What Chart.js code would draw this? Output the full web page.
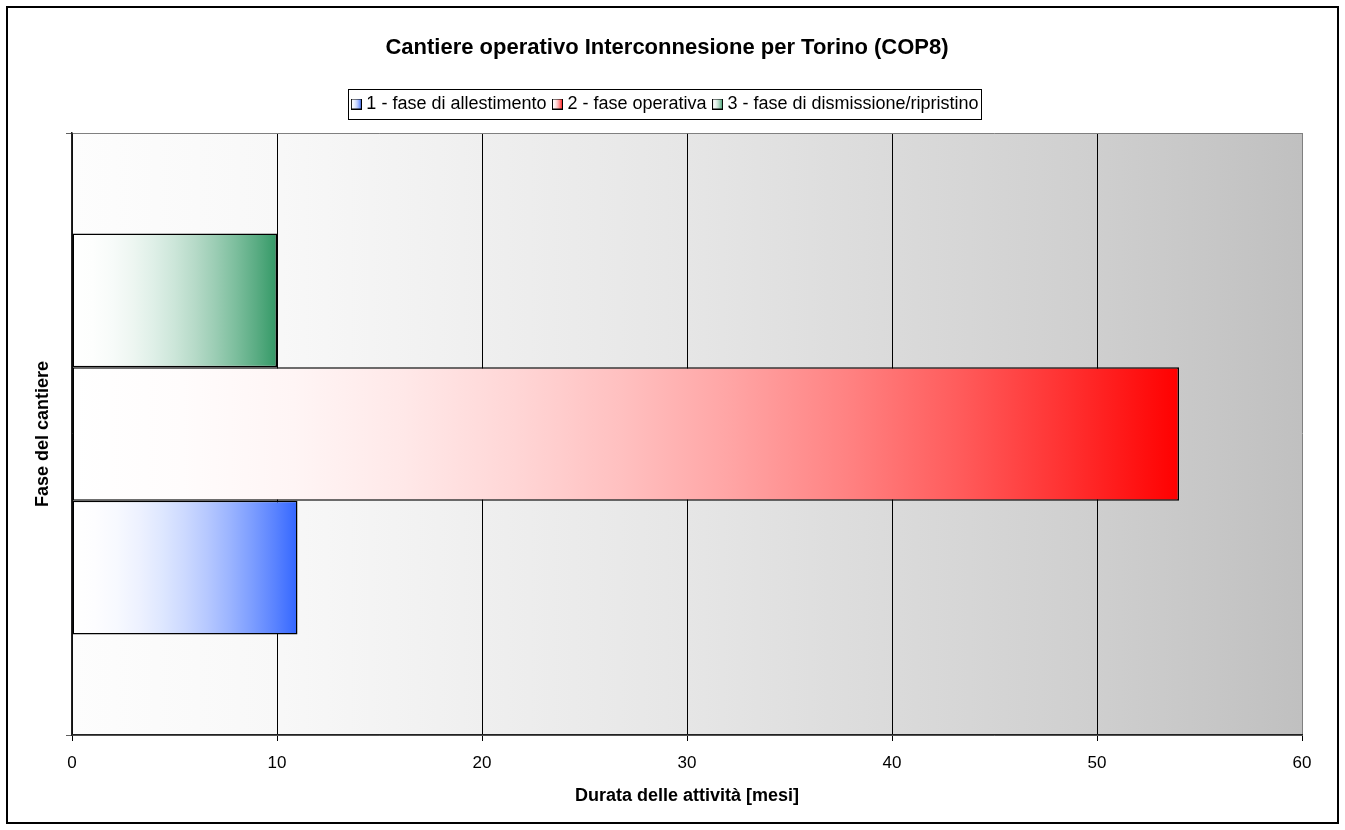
<!DOCTYPE html>
<html>
<head>
<meta charset="utf-8">
<title>Cantiere operativo Interconnesione per Torino (COP8)</title>
<script src="https://cdn.jsdelivr.net/npm/chart.js@4.4.1/dist/chart.umd.min.js"></script>
<style>
  html, body { margin: 0; padding: 0; background: #ffffff; }
  #wrap { width: 1345px; height: 830px; position: relative; }
</style>
</head>
<body>
<div id="wrap"><canvas id="chart"></canvas></div>
<script>
// Chart content
const chartTitle = 'Cantiere operativo Interconnesione per Torino (COP8)';
const categories = ['COP8'];
const phaseNames = ['1 - fase di allestimento', '2 - fase operativa', '3 - fase di dismissione/ripristino'];
const durations = [11, 54, 10];           // months per phase
const phaseColors = ['#3366ff', '#ff0000', '#339966'];
const xTickValues = [0, 10, 20, 30, 40, 50, 60];
const xAxisTitle = 'Durata delle attività [mesi]';
const yAxisTitle = 'Fase del cantiere';

const FONT = '"Liberation Sans", Arial, Helvetica, sans-serif';
Chart.defaults.font.family = FONT;
Chart.defaults.color = '#000000';

// Blend white towards a colour; s = 0 gives white, s = 1 the full colour.
function mix(hex, s) {
  const r = parseInt(hex.slice(1, 3), 16);
  const g = parseInt(hex.slice(3, 5), 16);
  const b = parseInt(hex.slice(5, 7), 16);
  const c = v => Math.round(255 + (v - 255) * s);
  return `rgb(${c(r)},${c(g)},${c(b)})`;
}

// Horizontal fade from white (left) to the full colour (right).
function fade(ctx, x0, x1, hex) {
  const g = ctx.createLinearGradient(x0, 0, x1, 0);
  for (let i = 0; i <= 10; i++) {
    const t = i / 10;
    g.addColorStop(t, mix(hex, t * t));
  }
  return g;
}

// Small gradient swatch used as the legend marker.
const SW = 11;
function swatch(hex) {
  const c = document.createElement('canvas');
  c.width = SW; c.height = SW;
  const x = c.getContext('2d');
  x.fillStyle = fade(x, 0, SW, hex);
  x.fillRect(0, 0, SW, SW);
  x.strokeStyle = '#000000';
  x.lineWidth = 1;
  x.strokeRect(0.5, 0.5, SW - 1, SW - 1);
  return c;
}

// Bars are stacked top-down in dataset order, so the phases go in reversed
// (phase 3 on top, phase 1 at the bottom); the legend flips them back.
const order = phaseNames.map((_, i) => i).reverse();
const datasets = order.map(i => ({
  label: phaseNames[i],
  data: [durations[i]],
  phaseColor: phaseColors[i],
  backgroundColor: (ctx) => {
    const chart = ctx.chart;
    const xs = chart.scales && chart.scales.x;
    if (!chart.chartArea || !xs || ctx.raw === undefined) return phaseColors[i];
    return fade(chart.ctx, xs.getPixelForValue(0), xs.getPixelForValue(ctx.raw), phaseColors[i]);
  },
  borderColor: '#000000',
  borderWidth: 1.5,
  borderSkipped: false,
  barPercentage: 1.0,
  categoryPercentage: 0.666
}));

// Chart frame, white page and the grey fade of the plot area.
const plotBackground = {
  id: 'plotBackground',
  beforeDraw(chart) {
    const { ctx, chartArea: a } = chart;
    ctx.save();
    ctx.fillStyle = '#ffffff';
    ctx.fillRect(0, 0, chart.width, chart.height);
    const g = ctx.createLinearGradient(a.left, 0, a.right, 0);
    g.addColorStop(0.00, '#fdfdfd');
    g.addColorStop(0.17, '#f8f8f8');
    g.addColorStop(0.50, '#e6e6e6');
    g.addColorStop(0.83, '#cfcfcf');
    g.addColorStop(1.00, '#c0c0c0');
    ctx.fillStyle = g;
    ctx.fillRect(a.left, a.top, a.right - a.left, a.bottom - a.top);
    ctx.strokeStyle = '#000000';
    ctx.lineWidth = 2;
    ctx.strokeRect(7, 7, chart.width - 14, chart.height - 14);
    ctx.restore();
  }
};

// Thin frame around the legend entries.
const legendFrame = {
  id: 'legendFrame',
  afterDraw(chart) {
    const boxes = chart.legend && chart.legend.legendHitBoxes;
    if (!boxes || !boxes.length) return;
    const left = Math.min(...boxes.map(b => b.left)) - 7;
    const right = Math.max(...boxes.map(b => b.left + b.width)) + 3;
    const top = Math.min(...boxes.map(b => b.top)) - 6;
    const bottom = Math.max(...boxes.map(b => b.top + b.height)) + 6;
    const ctx = chart.ctx;
    ctx.save();
    ctx.strokeStyle = '#000000';
    ctx.lineWidth = 1;
    ctx.strokeRect(Math.round(left) + 0.5, Math.round(top) + 0.5,
                   Math.round(right - left), Math.round(bottom - top));
    ctx.restore();
  }
};

// Empty layout box that keeps some air between the legend and the plot.
const GAP = 10;
const legendGap = {
  id: 'legendGap',
  beforeInit(chart) {
    Chart.layouts.addBox(chart, {
      position: 'top',
      weight: 0,
      fullSize: true,
      options: { stackWeight: 1 },
      top: 0, left: 0, right: 0, bottom: 0, width: 0, height: GAP,
      isHorizontal() { return true; },
      update(maxWidth) { this.width = maxWidth; this.height = GAP; },
      getPadding() { return { left: 0, right: 0, top: 0, bottom: 0 }; },
      draw() {}
    });
  }
};

new Chart(document.getElementById('chart'), {
  type: 'bar',
  data: { labels: categories, datasets },
  options: {
    indexAxis: 'y',
    responsive: true,
    maintainAspectRatio: false,
    animation: false,
    layout: { padding: { top: 10, left: 32, right: 43, bottom: 10 } },
    plugins: {
      tooltip: { enabled: false },
      title: {
        display: true,
        text: chartTitle,
        color: '#000000',
        font: { size: 22, weight: 'bold', family: FONT },
        padding: { top: 25, bottom: 23.6 }
      },
      legend: {
        display: true,
        position: 'top',
        reverse: true,
        labels: {
          color: '#000000',
          font: { size: 18, family: FONT },
          usePointStyle: true,
          boxWidth: 2,
          padding: 10,
          generateLabels(chart) {
            return chart.data.datasets.map((ds, i) => ({
              text: ds.label,
              fillStyle: ds.phaseColor,
              strokeStyle: '#000000',
              lineWidth: 1,
              pointStyle: swatch(ds.phaseColor),
              hidden: !chart.isDatasetVisible(i),
              datasetIndex: i,
              fontColor: '#000000'
            }));
          }
        }
      }
    },
    scales: {
      x: {
        type: 'linear',
        min: xTickValues[0],
        max: xTickValues[xTickValues.length - 1],
        afterFit(scale) { scale.height = 85; },
        ticks: {
          stepSize: xTickValues[1] - xTickValues[0],
          color: '#000000',
          font: { size: 17, family: FONT },
          padding: 12
        },
        grid: {
          color: (c) => (c.tick && c.tick.value === xTickValues[xTickValues.length - 1]) ? '#808080' : '#000000',
          tickColor: '#000000',
          lineWidth: 1,
          tickLength: 6,
          drawTicks: true
        },
        border: { display: true, color: '#222222', width: 1.5 },
        title: {
          display: true,
          text: xAxisTitle,
          color: '#000000',
          font: { size: 18, weight: 'bold', family: FONT },
          padding: { top: 0, bottom: 13 }
        }
      },
      y: {
        type: 'category',
        afterFit(scale) { scale.width = 40; },
        ticks: { display: false },
        grid: {
          offset: true,
          color: '#808080',
          tickColor: '#606060',
          lineWidth: 1,
          tickLength: 6,
          drawTicks: true
        },
        border: { display: true, color: '#222222', width: 1.5 },
        title: {
          display: true,
          text: yAxisTitle,
          color: '#000000',
          font: { size: 18, weight: 'bold', family: FONT },
          padding: { top: 0, bottom: 0 }
        }
      }
    }
  },
  plugins: [plotBackground, legendFrame, legendGap]
});
</script>
</body>
</html>
